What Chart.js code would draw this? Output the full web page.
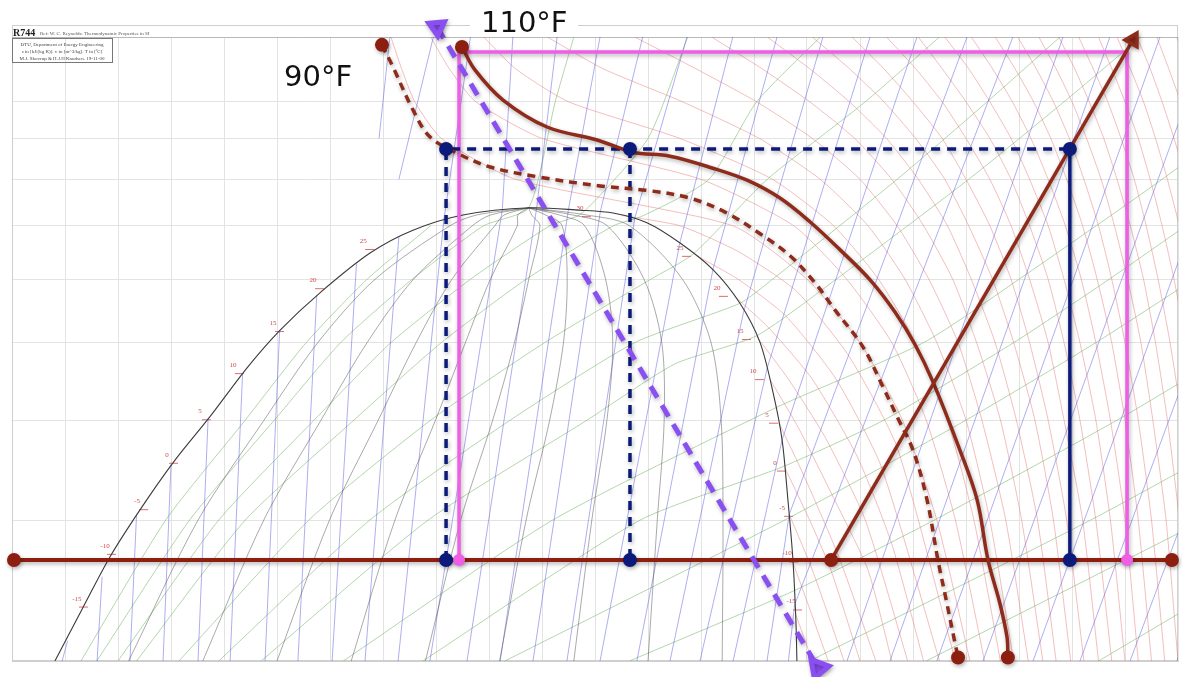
<!DOCTYPE html>
<html><head><meta charset="utf-8">
<script src="https://cdn.jsdelivr.net/npm/chart.js@4.4.1/dist/chart.umd.min.js"></script>
<style>html,body{margin:0;padding:0;background:#fff;overflow:hidden;}#wrap{width:1182px;height:677px;position:relative;}canvas{display:block;}</style>
</head><body><div id="wrap"><canvas id="c"></canvas></div>
<script>
// ---------- axes (enthalpy kJ/kg, pressure bar, log) ----------
const gridH = [140,160,180,200,220,240,260,280,300,320,340,360,380,400,420,440,460,480,500,520,540,560,580];
const gridP = [20,30,40,50,60,70,80,90,100,120.5];

// ---------- cycle overlays ----------
const pLow = 26.75, pCooler = 87.3, pHigh = 115.4;
const lowLineH = [140.75, 577.7];
const blueCycleH = [303.8, 373.2, 539.2];
const pinkCycleH = [308.7, 560.8];
const compressorH = [449.1, 563.0];
const compressorP = [26.75, 119.5];
const purpleH = [300.4, 444.2];
const purpleP = [124.0, 19.6];
const iso110F_H = [309.8,314.7,325.3,341.9,360.8,374.3,388.3,404.5,417.4,429.8,441.1,452.5,463.8,473.2,480.8,487.5,497.7,504.2,508.3,512.8,515.5,515.8];
const iso110F_P = [117.1,109.6,100.5,93.0,89.6,86.5,85.5,82.6,79.8,75.8,70.8,65.3,59.9,54.6,49.7,44.7,36.7,31.8,26.75,23.6,21.4,20.2];
const iso90F_H = [279.6,283.8,291.3,297.7,307.9,320.4,339.2,361.9,380.8,395.8,409.1,422.3,433.6,443.0,450.6,461.1,468.7,474.0,480.0,485.3,489.4,492.8,495.8,497.0];
const iso90F_P = [117.8,110.5,97.7,90.4,86.3,82.9,80.5,78.5,77.4,75.8,72.8,68.4,64.2,59.4,54.9,49.4,44.0,40.4,36.7,31.8,26.75,23.6,21.1,20.2];

// ---------- saturation dome ----------
const domeH = [156.2,166.4,177.0,188.3,200.8,214.7,228.7,241.1,256.2,275.1,291.3,310.2,335.5,354.3,366.8,379.6,392.1,404.5,414.7,422.3,427.2,430.6,432.8,434.7,435.8,436.2];
const domeP = [20,23.2,27.0,30.9,35.4,40.4,46.5,51.8,57.7,64.7,69.1,72.2,73.7,73.2,72.6,70.6,66.6,61.7,56.0,50.0,43.3,37.8,31.8,26.75,22.5,20];

// quality lines x = 0.1 ... 0.9
const qualityP = [20,30,40,50,60,70,72.2,73.7];
const qualityH = [
 [184,210.2,235.1,255.4,277,305.3,315.4,335],
 [212,235,256.6,274,291.5,313.7,320.6,335],
 [240,259.8,278.2,292.5,306,322.2,325.7,335],
 [268,284.5,299.8,311.1,320.5,330.7,330.9,335],
 [296,309.3,321.4,329.6,335,339.2,336.1,335],
 [324,334,342.9,348.1,349.5,347.6,341.3,335],
 [352,358.8,364.5,366.7,364,356.1,346.5,335],
 [380,383.5,386.1,385.2,378.5,364.6,351.6,335],
 [408,408.3,407.6,403.8,393,373,356.8,335]
];

// isotherms (°C) below critical: [h, p] from saturated vapour down
const subIsotherms = [
 [[435.7,22.9],[442,20]],
 [[434.8,26.5],[441.5,23],[448,20]],
 [[433.3,30.5],[442,26],[454,20]],
 [[431.7,34.85],[441,30],[449,26],[460,20]],
 [[429.4,39.7],[439,34],[452,27],[466,20]],
 [[426,45],[437,39],[450,32],[463,26],[472,20]],
 [[421,50.9],[433,45],[447,38],[462,30],[478,20]],
 [[412.3,57.3],[426,52],[442,45],[459,36],[472,28],[484,20]],
 [[398,64.3],[414,60],[432,54],[451,45],[468,35],[490,20]],
 [[370,72.1],[392,70],[414,65],[436,58],[456,48],[474,37],[496,20]]
];
// isotherms above critical: h at these pressures
const isoP = [20,30,40,50,60,70,80,90,100,110,120.5];
const superIsoT = [35,40,45,50,55,60,65,70,75,80,85,90,95,100,105,110,115,120,125,130,135,140,145];
const superIsoH = [
 [501.5,489,476,460,440,412,330,302,292,287,283],
 [507,496,485,472,455,435,400,340,315,305,298],
 [513,503,493,481,467,450,427,392,350,330,318],
 [518,509,500,489,477,463,445,422,393,363,342],
 [523.5,515,506,497,486,474,460,442,421,398,375],
 [529,521,513,504,495,484,472,458,441,423,404],
 [534,527,519,511,502,493,482,470,456,441,425],
 [539.5,533,526,518,510,501,492,481,469,456,442],
 [544.5,538,531,524,517,509,500,491,480,469,457],
 [550,544,537,531,524,517,509,500,491,481,470],
 [555,549,543,537,531,524,517,509,500,491,482],
 [560,554.5,549,543,537,531,524,517,509,501,492],
 [565,560,554.5,549,543.5,537.5,531,524.5,517.5,510,502],
 [570,565,560,555,549.5,544,538,532,525.5,518.5,511],
 [575,570,565,560,555,550,544.5,539,533,526.5,519.5],
 [580,575.5,570.5,566,561,556,551,545.5,540,534,527.5],
 [585,580.5,576,571.5,567,562,557,552,546.5,541,535],
 [590,586,581.5,577,572.5,568,563.5,558.5,553.5,548,542.5],
 [596,592,587.5,583,578.5,574,569.5,565,560,555,550],
 [602,598,593.5,589,585,580.5,576,571.5,567,562,557],
 [608,604,600,596,592,587.5,583,578.5,574,569.5,564.5],
 [614,610,606,602,598,594,590,585.5,581,576.5,572],
 [620,616,612,608,604,600,596,592,588,584,579.5]
];

// isentropes [h, p]
const isentropes = [
 [[158.9,20],[161,21.2]],
 [[172.1,20],[174,25.5]],
 [[184.5,20],[187,30.5]],
 [[197,20],[200,35.2]],
 [[210.2,20],[214,40.2]],
 [[222.3,20],[227,45.7]],
 [[235.5,20],[241,51.8]],
 [[247.9,20],[255,57.3]],
 [[260.8,20],[270,62.8]],
 [[273.2,20],[286,67.8]],
 [[285.7,20],[303,71.3],[313,120.5]],
 [[297.7,20],[325,73.2],[329,120.5]],
 [[311.7,20],[338,73.7],[345.7,120.5]],
 [[324.2,20],[350,73.4],[361.9,120.5]],
 [[336.6,20],[362,72.9],[378,120.5]],
 [[349.4,20],[375,71.5],[394.7,120.5]],
 [[361.9,20],[392,66.6],[412,120.5]],
 [[375.8,20],[404.5,61.7],[428.7,120.5]],
 [[388.3,20],[416,54.5],[446,120.5]],
 [[399.6,20],[425,46.5],[463.8,120.5]],
 [[412.1,20],[430.6,37.8],[481.5,120.5]],
 [[424.9,20],[433.3,30.5],[500.4,120.5]],
 [[433,20],[435.3,23.5],[517.7,120.5]],
 [[455.1,20],[536.6,120.5]],
 [[471.3,20],[554.3,120.5]],
 [[489,20],[573.2,120.5]],
 [[506.4,20],[592,120.5]],
 [[525.3,20],[611,120.5]],
 [[543,20],[630,120.5]],
 [[561.9,20],[650,120.5]],
 [[579.6,20],[670,120.5]],
 [[278.5,90],[282.6,120.5]],
 [[286,80],[299,120.5]]
];

// isochores [h, p]
const isochores = [
 [[166,20],[198,30],[228,40],[251,50],[274,60],[298,70]],
 [[172,20],[207,30],[239,40],[264,50],[291,60],[318,70],[335,73.7],[345,100],[352,120.5]],
 [[180,20],[218,30],[254,40],[283,50],[313,60],[343,70],[355,72.5],[380,90],[395,120.5]],
 [[187,20],[228,30],[269,40],[302,50],[334,60],[367,70],[378,72],[403,80],[421,100],[445,120.5]],
 [[203,20],[252,30],[298,40],[341,50],[381,60],[397,64.5],[425,80],[462,100],[490,120.5]],
 [[218,20],[275,30],[328,40],[375,50],[414.7,56],[427,60],[474,80],[508,100],[535.5,120.5]],
 [[234,20],[297,30],[357,40],[390,47],[421,51],[451,60],[501,80],[537,100],[566,120.5]],
 [[265,20],[344,30],[428.5,41.5],[484,50],[520,60],[574,80],[613,100]],
 [[295,20],[377,30],[431,35],[469,40],[518,50],[554,60],[608,80]],
 [[326,20],[433.2,30.2],[500,40],[549,50],[586,60]],
 [[373,20],[435.3,24.5],[488,30],[557,40],[606,50]],
 [[441,20],[547,30],[616,40]],
 [[485,20],[590,30]],
 [[550,20],[640,30]]
];

// saturation temperature labels (°C)
const satLabelText = ['-15','-10','-5','0','5','10','15','20','25','30','25','20','15','10','5','0','-5','-10','-15'];
const satLabelH = [164.5,175.1,187.2,198.5,210.9,223.4,238.5,253.6,272.5,354.3,392.1,406,414.7,419.6,424.9,427.9,430.6,432.5,434];
const satLabelP = [23.8,27.7,31.5,36.0,40.8,46.6,52.6,59.5,66.6,73.2,65.3,58.2,51.4,45.8,40.4,35.2,30.9,27.1,23.6];

// ---------- build datasets ----------
const xy = (hs, ps) => hs.map((h, i) => ({x: h, y: Array.isArray(ps) ? ps[i] : ps}));
const pairs = l => l.map(([h, p]) => ({x: h, y: p}));
function lineSet(data, color, width, order, extra) {
  return Object.assign({data, showLine: true, borderColor: color, backgroundColor: color,
    borderWidth: width, pointRadius: 0, pointHoverRadius: 0, fill: false, tension: 0, order}, extra || {});
}
const datasets = [];
const RED_BG = 'rgba(228,105,105,0.55)', BLUE_BG = 'rgba(85,85,225,0.6)', GREEN_BG = 'rgba(110,175,95,0.65)', GREY_BG = 'rgba(60,60,60,0.55)';
subIsotherms.forEach(l => datasets.push(lineSet(pairs(l), RED_BG, 0.8, 60, {tension: 0.2})));
superIsoH.forEach(hs => datasets.push(lineSet(xy(hs, isoP), RED_BG, 0.8, 60, {tension: 0.2})));
isochores.forEach(l => datasets.push(lineSet(pairs(l), GREEN_BG, 0.8, 58, {tension: 0.2})));
isentropes.forEach(l => datasets.push(lineSet(pairs(l), BLUE_BG, 0.8, 56)));
qualityH.forEach(hs => datasets.push(lineSet(xy(hs, qualityP), GREY_BG, 0.8, 55, {tension: 0.3})));
datasets.push(lineSet(xy(domeH, domeP), '#3a3a3a', 1.1, 54, {tension: 0.3}));

const BROWN = '#8e2b1b', DRED = '#8c1f10', NAVY = '#0c1b7a', PINK = '#ee5fe6', PURPLE = '#8a4ff0';
const ov = {clip: false, shadow: true};
datasets.push(lineSet(xy(lowLineH, pLow), DRED, 4, 9, ov));
datasets.push(lineSet([{x: pinkCycleH[0], y: pLow}, {x: pinkCycleH[0], y: pHigh}, {x: pinkCycleH[1], y: pHigh}, {x: pinkCycleH[1], y: pLow}], PINK, 3.5, 8, ov));
datasets.push(lineSet([{x: blueCycleH[0], y: pLow}, {x: blueCycleH[0], y: pCooler}, {x: blueCycleH[2], y: pCooler}], NAVY, 3.5, 7, Object.assign({borderDash: [9, 7]}, ov)));
datasets.push(lineSet(xy([blueCycleH[1], blueCycleH[1]], [pCooler, pLow]), NAVY, 3.5, 7, Object.assign({borderDash: [9, 7]}, ov)));
datasets.push(lineSet(xy([blueCycleH[2], blueCycleH[2]], [pCooler, pLow]), NAVY, 3.5, 7, ov));
datasets.push(lineSet(xy(iso110F_H, iso110F_P), BROWN, 3.5, 6, Object.assign({tension: 0.35}, ov)));
datasets.push(lineSet(xy(iso90F_H, iso90F_P), BROWN, 3.5, 6, Object.assign({tension: 0.35, borderDash: [8, 6]}, ov)));
datasets.push(lineSet(xy(compressorH, compressorP), BROWN, 3.5, 5, Object.assign({pointStyle: 'triangle', pointRadius: [0, 8], pointRotation: [0, 30]}, ov)));
datasets.push(lineSet(xy(purpleH, purpleP), PURPLE, 5, 2, Object.assign({borderDash: [13, 9], pointStyle: 'triangle', pointRadius: [9, 11], pointRotation: [-65, 200]}, ov)));
// markers
datasets.push({data: [{x: lowLineH[0], y: pLow}, {x: lowLineH[1], y: pLow}, {x: compressorH[0], y: pLow},
  {x: iso90F_H[0], y: iso90F_P[0]}, {x: iso110F_H[0], y: iso110F_P[0]},
  {x: iso90F_H[iso90F_H.length - 1], y: iso90F_P[iso90F_P.length - 1]}, {x: iso110F_H[iso110F_H.length - 1], y: iso110F_P[iso110F_P.length - 1]}],
  showLine: false, pointRadius: 7, pointBackgroundColor: DRED, pointBorderWidth: 0, order: 1, clip: false, shadow: true});
datasets.push({data: [{x: blueCycleH[0], y: pCooler}, {x: blueCycleH[1], y: pCooler}, {x: blueCycleH[2], y: pCooler},
  {x: blueCycleH[0], y: pLow}, {x: blueCycleH[1], y: pLow}, {x: blueCycleH[2], y: pLow}],
  showLine: false, pointRadius: 7, pointBackgroundColor: NAVY, pointBorderWidth: 0, order: 1, clip: false, shadow: true});
datasets.push({data: [{x: pinkCycleH[0], y: pLow}, {x: pinkCycleH[1], y: pLow}],
  showLine: false, pointRadius: 6, pointBackgroundColor: PINK, pointBorderWidth: 0, order: 0, clip: false, shadow: true});

// ---------- plugins ----------
const shadowPlugin = {
  id: 'shadow',
  beforeDatasetDraw(chart, args) {
    if (chart.data.datasets[args.index].shadow) {
      const c = chart.ctx; c.save();
      c.shadowColor = 'rgba(0,0,0,0.3)'; c.shadowBlur = 4; c.shadowOffsetX = 1; c.shadowOffsetY = 2;
    }
  },
  afterDatasetDraw(chart, args) {
    if (chart.data.datasets[args.index].shadow) chart.ctx.restore();
  }
};
const decor = {
  id: 'decor',
  beforeDatasetsDraw(chart) {
    const {ctx, chartArea: a, scales: {x, y}} = chart;
    ctx.save();
    ctx.strokeStyle = '#cfcfcf'; ctx.lineWidth = 1;
    ctx.strokeRect(a.left + 0.5, a.top - 11.5, a.right - a.left - 1, a.bottom - a.top + 11);
    ctx.strokeStyle = '#b8b8b8';
    ctx.beginPath(); ctx.moveTo(a.left, a.top + 0.5); ctx.lineTo(a.right, a.top + 0.5); ctx.stroke();
    ctx.fillStyle = '#222'; ctx.textBaseline = 'alphabetic'; ctx.textAlign = 'left';
    ctx.font = 'bold 10px "Liberation Serif"';
    ctx.fillText('R744', a.left + 1, a.top - 1);
    ctx.font = '5px "Liberation Serif"'; ctx.fillStyle = '#555';
    ctx.fillText('Ref: W. C. Reynolds: Thermodynamic Properties in SI', a.left + 28, a.top - 2);
    ctx.strokeStyle = '#777';
    ctx.strokeRect(a.left + 0.5, a.top + 1.5, 100, 24);
    ctx.font = '5px "Liberation Serif"'; ctx.textAlign = 'center'; ctx.fillStyle = '#444';
    ctx.fillText('DTU, Department of Energy Engineering', a.left + 50, a.top + 9);
    ctx.fillText('s in [kJ/(kg K)]. v in [m^3/kg]. T in [ºC]', a.left + 50, a.top + 16);
    ctx.fillText('M.J. Skovrup & H.J.H Knudsen. 19-11-00', a.left + 50, a.top + 23);
    ctx.font = '7px "Liberation Serif"'; ctx.fillStyle = '#d24848'; ctx.strokeStyle = 'rgba(210,72,72,0.8)';
    satLabelText.forEach((t, i) => {
      const px = x.getPixelForValue(satLabelH[i]), py = y.getPixelForValue(satLabelP[i]);
      ctx.fillText(t, px, py);
      ctx.beginPath(); ctx.moveTo(px + 2, py + 6.5); ctx.lineTo(px + 11, py + 6.5); ctx.stroke();
    });
    ctx.restore();
  },
  afterDatasetsDraw(chart) {
    const ctx = chart.ctx;
    ctx.save();
    ctx.fillStyle = '#fff';
    ctx.fillRect(470, 2, 108, 33);
    ctx.fillStyle = '#111'; ctx.textAlign = 'left'; ctx.textBaseline = 'alphabetic';
    ctx.font = '29px "DejaVu Sans"';
    ctx.fillText('110°F', 481, 32);
    ctx.fillText('90°F', 284, 86);
    ctx.restore();
  }
};

new Chart(document.getElementById('c'), {
  type: 'scatter',
  data: {datasets},
  options: {
    responsive: true, maintainAspectRatio: false, animation: false,
    layout: {autoPadding: false, padding: {left: 12, top: 37, right: 4, bottom: 16}},
    plugins: {legend: {display: false}, tooltip: {enabled: false}},
    events: [],
    scales: {
      x: {type: 'linear', min: gridH[0], max: gridH[gridH.length - 1],
        afterBuildTicks: s => { s.ticks = gridH.map(v => ({value: v})); },
        ticks: {display: false}, grid: {color: '#e3e3e3', drawTicks: false, lineWidth: 1},
        border: {display: true, color: '#cfcfcf'}},
      y: {type: 'logarithmic', min: gridP[0], max: gridP[gridP.length - 1],
        afterBuildTicks: s => { s.ticks = gridP.map(v => ({value: v})); },
        ticks: {display: false}, grid: {color: '#e3e3e3', drawTicks: false, lineWidth: 1},
        border: {display: true, color: '#cfcfcf'}}
    }
  },
  plugins: [shadowPlugin, decor]
});
</script></body></html>
